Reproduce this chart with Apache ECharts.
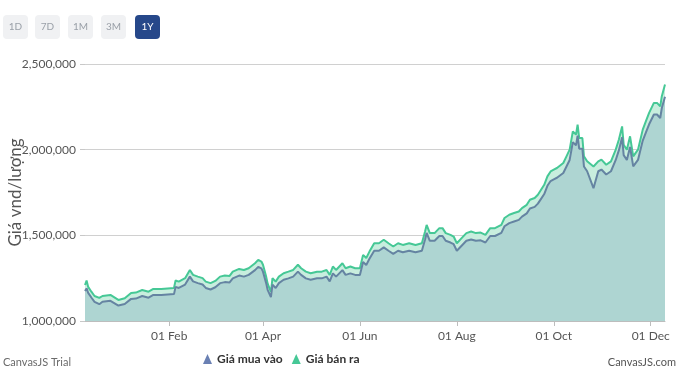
<!DOCTYPE html>
<html><head><meta charset="utf-8">
<script src="https://cdn.jsdelivr.net/npm/echarts@6/dist/echarts.min.js"></script>
<style>html,body{margin:0;padding:0;background:#fff}#c{width:680px;height:384px}</style>
</head><body><div id="c"></div>
<script>
const dates = [
'2024-12-10','2024-12-11','2024-12-12','2024-12-14','2024-12-16','2024-12-19','2024-12-21','2024-12-26','2024-12-31',
'2025-01-04','2025-01-08','2025-01-11','2025-01-15','2025-01-19','2025-01-22','2025-01-27',
'2025-02-04','2025-02-05','2025-02-07','2025-02-11','2025-02-14','2025-02-16','2025-02-19','2025-02-22','2025-02-24','2025-02-27',
'2025-03-02','2025-03-05','2025-03-08','2025-03-11','2025-03-13','2025-03-17','2025-03-20','2025-03-23','2025-03-27','2025-03-29','2025-03-31',
'2025-04-01','2025-04-03','2025-04-04','2025-04-06','2025-04-07','2025-04-09','2025-04-11','2025-04-14','2025-04-17','2025-04-20','2025-04-23','2025-04-25','2025-04-28',
'2025-05-01','2025-05-05','2025-05-08','2025-05-11','2025-05-13','2025-05-15','2025-05-17','2025-05-21','2025-05-23','2025-05-26','2025-05-29',
'2025-06-01','2025-06-03','2025-06-05','2025-06-07','2025-06-10','2025-06-13','2025-06-16','2025-06-19','2025-06-22','2025-06-25','2025-06-28',
'2025-07-02','2025-07-06','2025-07-10','2025-07-12','2025-07-13','2025-07-15','2025-07-18','2025-07-21','2025-07-23','2025-07-25','2025-07-28','2025-07-30',
'2025-08-01','2025-08-04','2025-08-07','2025-08-10','2025-08-13','2025-08-16','2025-08-19','2025-08-22','2025-08-25','2025-08-29','2025-08-31',
'2025-09-03','2025-09-06','2025-09-09','2025-09-11','2025-09-14','2025-09-16','2025-09-19','2025-09-21','2025-09-23','2025-09-25','2025-09-27','2025-09-29',
'2025-10-01','2025-10-03','2025-10-07','2025-10-09','2025-10-11','2025-10-13','2025-10-15','2025-10-16','2025-10-17','2025-10-19','2025-10-20','2025-10-22','2025-10-26','2025-10-29','2025-10-31',
'2025-11-03','2025-11-06','2025-11-09','2025-11-11','2025-11-13','2025-11-14','2025-11-16','2025-11-18','2025-11-20','2025-11-23','2025-11-26','2025-11-28','2025-11-30',
'2025-12-03','2025-12-05','2025-12-07','2025-12-08','2025-12-10'
];
const sellPrices = [
1210000,1236000,1199000,1171000,1146000,1135000,1146000,1152000,1123000,
1133000,1164000,1166000,1181000,1171000,1187000,1187000,
1193000,1236000,1230000,1250000,1298000,1269000,1259000,1250000,1230000,1221000,
1234000,1259000,1265000,1263000,1288000,1304000,1298000,1308000,1337000,1357000,1347000,
1328000,1259000,1216000,1170000,1250000,1230000,1259000,1279000,1288000,1298000,1328000,1308000,1288000,
1279000,1288000,1288000,1298000,1269000,1318000,1298000,1337000,1308000,1318000,1308000,
1308000,1386000,1368000,1405000,1454000,1454000,1474000,1454000,1435000,1454000,1444000,
1454000,1444000,1454000,1522000,1561000,1513000,1513000,1542000,1542000,1513000,1503000,1493000,
1454000,1484000,1513000,1522000,1513000,1516000,1503000,1542000,1542000,1561000,1601000,
1620000,1630000,1639000,1659000,1678000,1708000,1718000,1737000,1766000,1795000,1844000,1873000,
1883000,1893000,1922000,1961000,2000000,2107000,2088000,2146000,2068000,2068000,1961000,1932000,1902000,1932000,1942000,
1912000,1932000,2000000,2059000,2136000,2029000,2000000,2078000,1961000,2000000,2117000,2166000,2215000,
2273000,2273000,2253000,2312000,2380000
];
const buyPrices = [
1175000,1190000,1164000,1137000,1112000,1098000,1112000,1118000,1090000,
1099000,1129000,1131000,1146000,1136000,1152000,1152000,
1157000,1199000,1193000,1213000,1259000,1231000,1221000,1213000,1193000,1184000,
1197000,1221000,1227000,1225000,1249000,1265000,1259000,1269000,1297000,1316000,1307000,
1288000,1221000,1180000,1140000,1212000,1193000,1221000,1241000,1249000,1259000,1288000,1269000,1249000,
1241000,1249000,1249000,1259000,1231000,1278000,1259000,1297000,1269000,1278000,1269000,
1269000,1344000,1327000,1363000,1410000,1410000,1430000,1410000,1392000,1410000,1401000,
1410000,1401000,1410000,1476000,1514000,1468000,1468000,1496000,1496000,1468000,1458000,1448000,
1410000,1439000,1468000,1476000,1468000,1471000,1458000,1496000,1496000,1514000,1553000,
1571000,1581000,1590000,1609000,1628000,1657000,1666000,1685000,1713000,1741000,1789000,1817000,
1827000,1836000,1864000,1902000,1940000,2044000,2025000,2082000,2006000,2006000,1902000,1874000,1775000,1874000,1884000,
1855000,1874000,1940000,1997000,2072000,1968000,1940000,2016000,1902000,1940000,2053000,2101000,2148000,
2205000,2205000,2185000,2243000,2309000
];
const tickDates = ['2025-02-01','2025-04-01','2025-06-01','2025-08-01','2025-10-01','2025-12-01'];
const tickLabels = ['01 Feb','01 Apr','01 Jun','01 Aug','01 Oct','01 Dec'];
const yMin = 1000000, yMax = 2500000, yStep = 500000;
const seriesNames = ['Giá mua vào','Giá bán ra'];
const rangeButtons = ['1D','7D','1M','3M','1Y'];
const selectedRange = '1Y';
const yTitle = 'Giá vnd/lượng';

function parseDay(s){const p=s.split('-').map(Number);return Date.UTC(p[0],p[1]-1,p[2]);}
const tickTs = tickDates.map(parseDay);
const labelMap = {}; tickTs.forEach((t,i)=>labelMap[t]=tickLabels[i]);
const sellData = dates.map((d,i)=>[parseDay(d), sellPrices[i]]);
const buyData = dates.map((d,i)=>[parseDay(d), buyPrices[i]]);

const FONT = 'Lato, "Open Sans", sans-serif';
const btnX = [3,35,68,101,135];
const graphics = [];
rangeButtons.forEach((b,i)=>{
  const sel = b===selectedRange;
  graphics.push({type:'rect', left:btnX[i], top:15, shape:{width:25,height:24,r:4}, style:{fill: sel?'#26488a':'#f0f1f3'}});
  graphics.push({type:'text', x:btnX[i]+12.5, y:27, style:{text:b, fill: sel?'#ffffff':'#9aa0a8', font:'10px '+FONT, textAlign:'center', textVerticalAlign:'middle'}});
});
graphics.push({type:'text', left:3, top:357, style:{text:'CanvasJS Trial', fill:'#6b6b6b', font:'11px '+FONT}});
graphics.push({type:'text', right:4, top:357, style:{text:'CanvasJS.com', fill:'#555555', font:'11px '+FONT}});

const chart = echarts.init(document.getElementById('c'));
chart.setOption({
  animation:false,
  backgroundColor:'#ffffff',
  textStyle:{fontFamily:FONT},
  grid:{left:85, right:15, top:64, bottom:63, containLabel:false, outerBoundsMode:'none'},
  graphic: graphics,
  legend:{
    data:[seriesNames[0], seriesNames[1]],
    bottom:14, left:198, icon:'triangle', itemWidth:9, itemHeight:10, itemGap:9,
    textStyle:{color:'#333', fontSize:12, fontWeight:'bold', fontFamily:FONT}
  },
  xAxis:{
    type:'value', min:parseDay(dates[0]), max:parseDay(dates[dates.length-1]),
    axisLine:{show:true, lineStyle:{color:'#bdbdbd', width:1}},
    axisTick:{show:true, customValues:tickTs, length:5, lineStyle:{color:'#bdbdbd'}},
    axisLabel:{customValues:tickTs, color:'#555', fontSize:12, margin:9, fontFamily:FONT,
      formatter:v=>labelMap[v]||''},
    splitLine:{show:false}
  },
  yAxis:{
    type:'value', min:yMin, max:yMax, interval:yStep,
    name:yTitle, nameLocation:'middle', nameRotate:90, nameGap:61, nameMoveOverlap:false,
    nameTextStyle:{color:'#555', fontSize:17, fontFamily:FONT},
    axisLine:{show:false},
    axisTick:{show:true, length:5, lineStyle:{color:'#c8c8c8'}},
    axisLabel:{color:'#555', fontSize:12, margin:9, fontFamily:FONT,
      formatter:v=>v.toLocaleString('en-US')},
    splitLine:{lineStyle:{color:'#d0d0d0', width:1}}
  },
  series:[
    {name:seriesNames[1], type:'line', data:sellData, showSymbol:false, symbol:'none',
     color:'#46c896', lineStyle:{color:'#46c896', width:2},
     areaStyle:{color:'#c8eede', opacity:1, origin:'start'}, z:2},
    {name:seriesNames[0], type:'line', data:buyData, showSymbol:false, symbol:'none',
     color:'#6a80b3', lineStyle:{color:'#6584a2', width:2},
     areaStyle:{color:'#aed5d2', opacity:1, origin:'start'}, z:3}
  ]
});
</script></body></html>
